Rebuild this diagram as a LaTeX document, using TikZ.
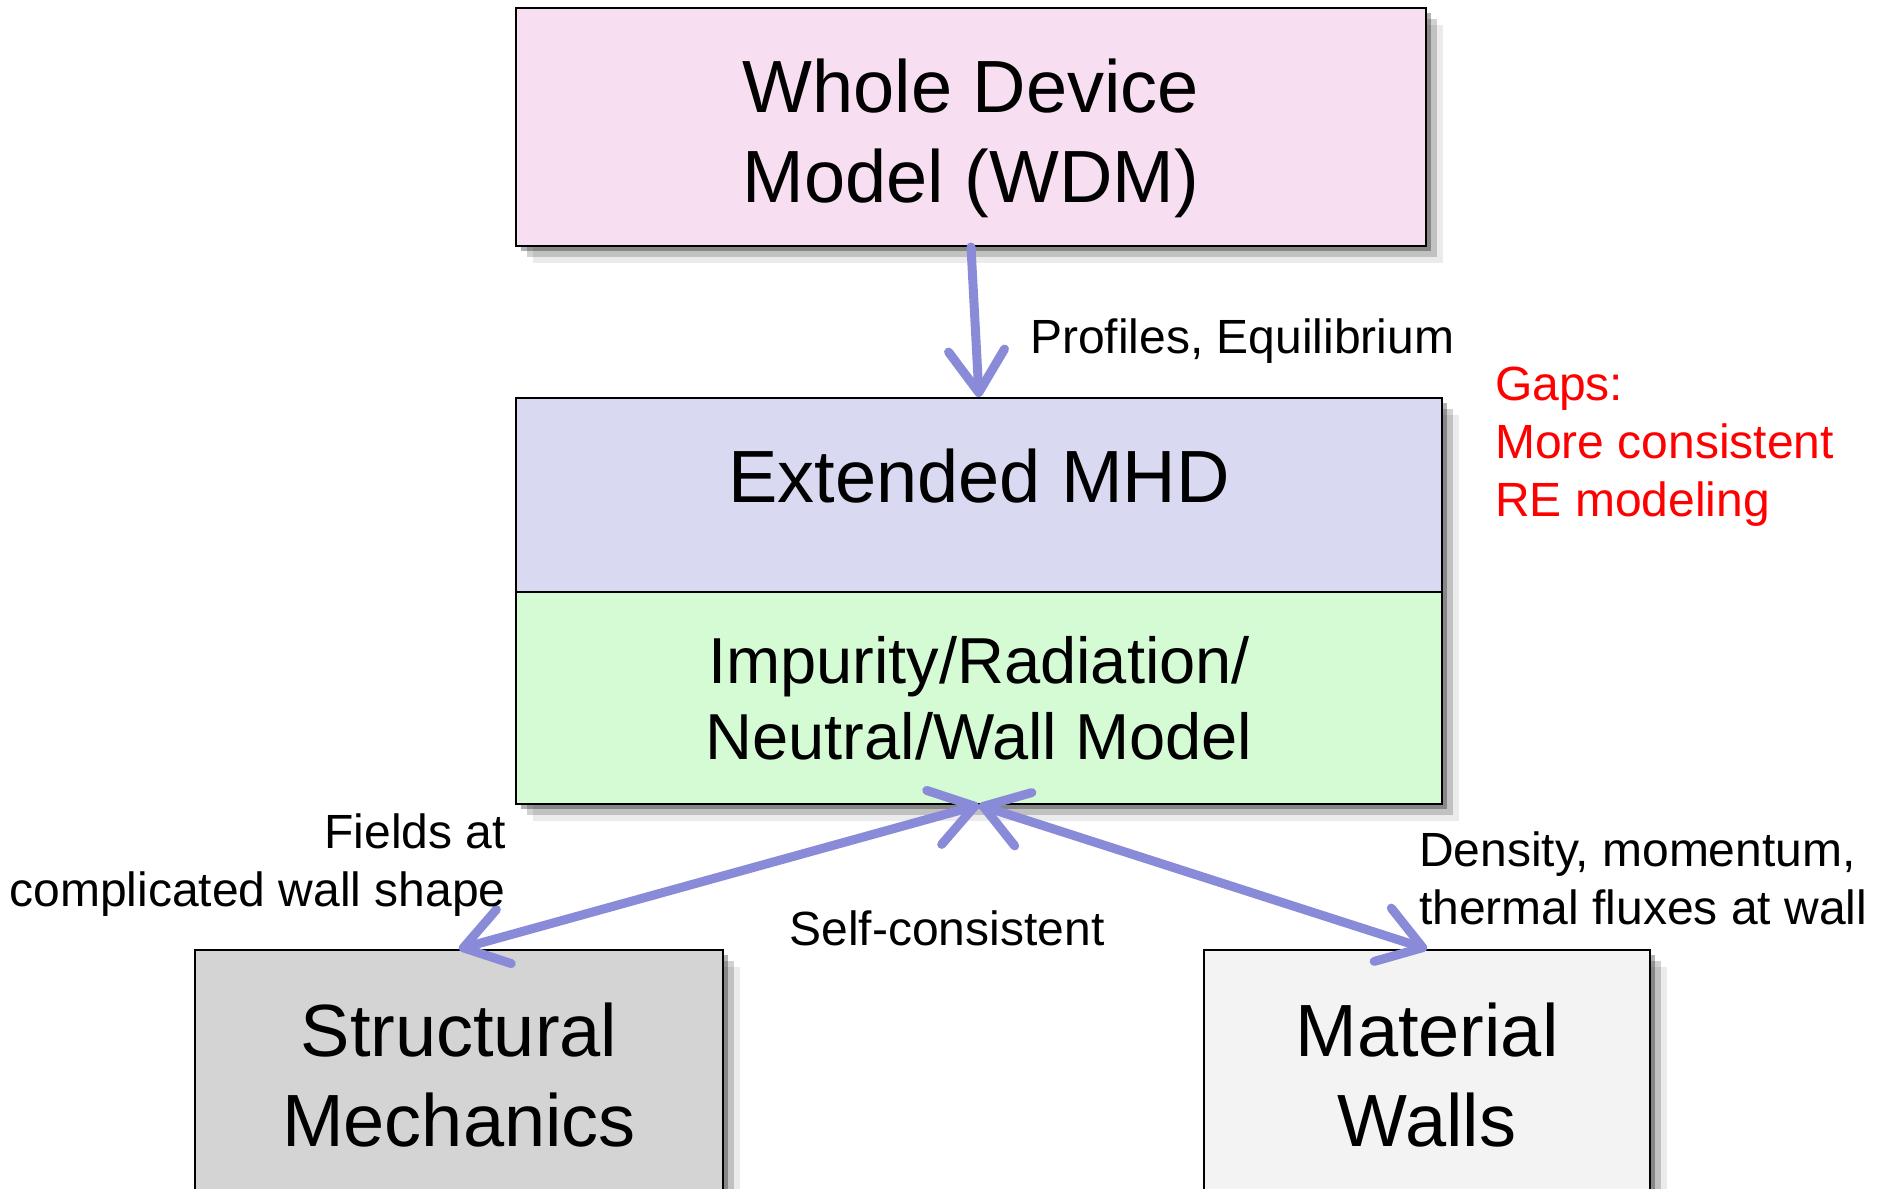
\documentclass[tikz,border=0pt]{standalone}
\usepackage{fontspec}
\setmainfont{Liberation Sans}
\usepackage{xcolor}
\usepackage{tikz}
\usetikzlibrary{shapes, arrows.meta, positioning, shadows}

\definecolor{wdmpink}{RGB}{247,222,240}
\definecolor{mhdblue}{RGB}{217,217,242}
\definecolor{impgreen}{RGB}{212,251,212}
\definecolor{structgray}{RGB}{212,212,212}
\definecolor{wallgray}{RGB}{243,243,243}
\definecolor{linkblue}{RGB}{137,139,217}
\definecolor{gapred}{RGB}{255,0,0}

\newcommand{\boxfont}{\fontsize{74}{90}\selectfont}
\newcommand{\impfont}{\fontsize{65}{76}\selectfont}
\newcommand{\lblfont}{\fontsize{48}{58}\selectfont}

\begin{document}
\begin{tikzpicture}[x=1pt, y=-1pt,
            softshadow/.style={drop shadow={shadow xshift=5pt, shadow yshift=-5pt, opacity=.3, fill=black},
                               drop shadow={shadow xshift=11pt, shadow yshift=-11pt, opacity=.18, fill=black},
                               drop shadow={shadow xshift=17pt, shadow yshift=-17pt, opacity=.08, fill=black}},
            box/.style={draw, line width=2pt, rectangle, align=center, font=\boxfont, softshadow},
            link/.style={draw=linkblue, line width=9pt, line cap=round},
            lbl/.style={font=\lblfont, align=left, inner sep=0pt},
            >={Straight Barb[length=42pt, width=56pt, round]}]
            \clip (0,0) rectangle (1889,1188);

            % 整机模型
            \node[box, fill=wdmpink, minimum width=910, minimum height=238] (wdm) at (971,127) {};
            \node[font=\boxfont, align=center] (wdmtext) at (971,138) {Whole Device\\Model (WDM)};

            % 扩展MHD + 杂质模型
            \node[box, fill=mhdblue, minimum width=926, minimum height=194] (mhd) at (979,495) {};
            \node[font=\boxfont] (mhdtext) at (979,476) {Extended MHD};
            \node[box, fill=impgreen, font=\impfont, minimum width=926, minimum height=212] (imp) at (979,698) {Impurity/Radiation/\\Neutral/Wall Model};

            % 下层
            \node[box, fill=structgray, minimum width=528, minimum height=250] (struct) at (459,1075) {Structural\\Mechanics};
            \node[box, fill=wallgray, minimum width=446, minimum height=250] (walls) at (1427,1075) {Material\\Walls};

            % 连接线
            \draw[link, ->] (wdm.south) -- (mhd.north);
            \draw[link, <->] (imp.south) -- (struct.north);
            \draw[link, <->] (imp.south) -- (walls.north);

            % 标注
            \node[lbl, anchor=west] (profiles) at (1030,341) {Profiles, Equilibrium};
            \node[lbl, anchor=west, text=gapred] (gaps) at (1495,447) {Gaps:\\More consistent\\RE modeling};
            \node[lbl, anchor=east, align=right] (fields) at (506,865) {Fields at\\complicated wall shape};
            \node[lbl] (selfcons) at (947,928) {Self-consistent};
            \node[lbl, anchor=west] (fluxes) at (1419,878) {Density, momentum,\\thermal fluxes at wall};
        \end{tikzpicture}
\end{document}
